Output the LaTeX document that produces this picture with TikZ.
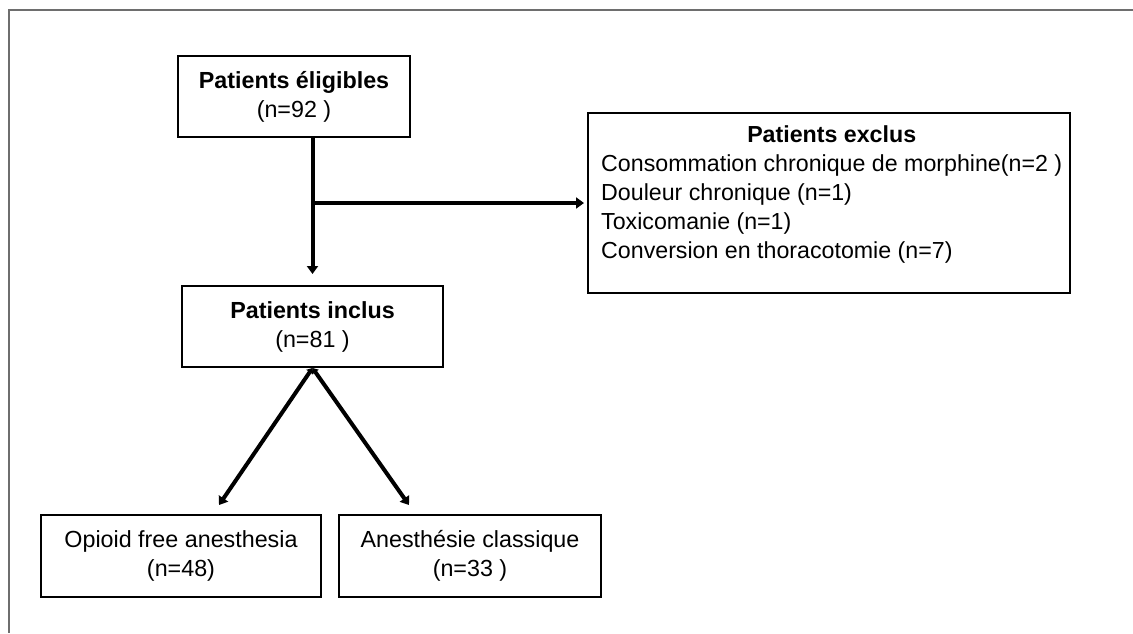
\documentclass[tikz,border=0pt]{standalone}
\usepackage{fontspec}
\setmainfont{Liberation Sans}
\usetikzlibrary{arrows.meta,calc}
\begin{document}
\begin{tikzpicture}[x=1pt,y=1pt,
  boxnode/.style={draw=black, line width=2pt, inner sep=0pt, font=\fontsize{23.3}{29}\selectfont, align=center},
  txt/.style={inner sep=0pt, font=\fontsize{23.2}{29}\selectfont},
  conn/.style={line width=4pt, -{Triangle[length=8pt,width=11pt]}},
  frameline/.style={draw={rgb,255:red,110;green,110;blue,110}, line width=2pt}]
\useasboundingbox (0,0) rectangle (1133,-633);
% partial frame
\coordinate (fa) at (1133,-10);
\coordinate (fb) at (9,-10);
\coordinate (fc) at (9,-633);
\draw[frameline] (fa) -- (fb) -- (fc);
% boxes
\node[boxnode, minimum width=232pt, minimum height=81pt] (eli) at (294,-96.5)
  {\textbf{Patients éligibles}\\(n=92 )};
\node[boxnode, minimum width=482pt, minimum height=180pt] (excl) at (829,-203) {};
\node[txt, anchor=north west] (exclt) at (601,-122) {\begin{tabular}{@{}l@{}}
  \multicolumn{1}{c}{\textbf{Patients exclus}}\\
  Consommation chronique de morphine(n=2 )\\
  Douleur chronique (n=1)\\
  Toxicomanie (n=1)\\
  Conversion en thoracotomie (n=7)
\end{tabular}};
\node[boxnode, minimum width=261pt, minimum height=81pt] (incl) at (312.5,-326.5)
  {\textbf{Patients inclus}\\(n=81 )};
\node[boxnode, minimum width=280pt, minimum height=82pt] (ofa) at (181,-556)
  {Opioid free anesthesia\\(n=48)};
\node[boxnode, minimum width=262pt, minimum height=82pt] (cla) at (470,-556)
  {Anesthésie classique\\(n=33 )};
% connectors
\coordinate (br) at (incl.north |- excl.west);
\coordinate (a1) at (219,-505);
\coordinate (a2) at (409,-505);
\draw[conn, shorten >=11pt] (incl.north |- eli.south) -- (incl.north);
\draw[conn, shorten >=3pt] (br) -- (excl.west);
\draw[line width=4pt, {Triangle[length=5pt,width=8pt]}-{Triangle[length=8pt,width=11pt]}] (incl.south) -- (a1);
\draw[line width=4pt, {Triangle[length=5pt,width=8pt]}-{Triangle[length=8pt,width=11pt]}] (incl.south) -- (a2);
\end{tikzpicture}
\end{document}
